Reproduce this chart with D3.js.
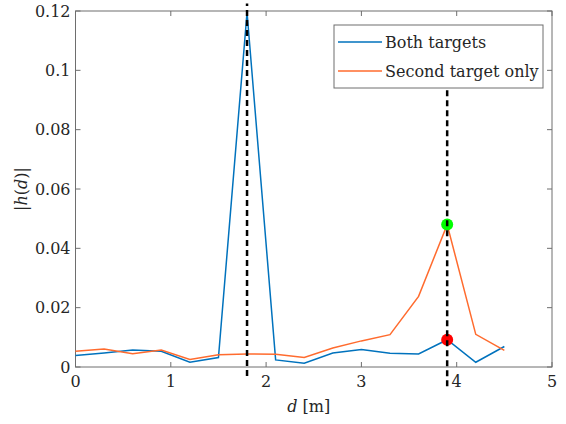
<!DOCTYPE html>
<meta charset="utf-8">
<script src="https://d3js.org/d3.v7.min.js"></script>
<style>
  body { margin: 0; background: #fff; }
</style>
<div id="chart"></div>
<script>
// distance samples and the two |h(d)| curves
var dist = [0, 0.3, 0.6, 0.9, 1.2, 1.5, 1.8, 2.1, 2.4, 2.7, 3.0, 3.3, 3.6, 3.9, 4.2, 4.5];
var bothTargets = [0.0039, 0.0047, 0.0057, 0.0053, 0.0016, 0.0032, 0.1195, 0.0024,
                   0.0013, 0.0047, 0.0059, 0.0046, 0.0044, 0.0092, 0.0016, 0.0069];
var secondOnly = [0.0053, 0.0061, 0.0045, 0.0057, 0.0025, 0.0041, 0.0044, 0.0043,
                  0.0032, 0.0064, 0.0088, 0.0109, 0.0238, 0.0480, 0.0110, 0.0056];
var seriesNames = ["Both targets", "Second target only"];
var targetPos = [1.8, 3.9];
var targetTop = [0.1225, 0.0935];
var targetBottom = [-0.003, -0.0065];
var xTicks = [0, 1, 2, 3, 4, 5];
var yTicks = [0, 0.02, 0.04, 0.06, 0.08, 0.1, 0.12];
var yTickLabels = ["0", "0.02", "0.04", "0.06", "0.08", "0.1", "0.12"];

var W = 566, H = 424;
var margin = {top: 11, right: 14, bottom: 57, left: 75.5};
var width = W - margin.left - margin.right,
    height = H - margin.top - margin.bottom;
var font = "'DejaVu Serif', 'Liberation Serif', serif";

var svg = d3.select("#chart").append("svg")
    .attr("width", W).attr("height", H)
    .attr("font-family", font);
var g = svg.append("g")
    .attr("transform", "translate(" + margin.left + "," + margin.top + ")");

var x = d3.scaleLinear().domain([0, 5]).range([0, width]);
var y = d3.scaleLinear().domain([0, 0.12]).range([height, 0]);

var axisColor = "#6e6e6e";
var textColor = "#262626";

// box
g.append("rect").attr("width", width).attr("height", height)
  .attr("fill", "none").attr("stroke", axisColor).attr("stroke-width", 1);

// ticks inside on all four sides
var tickLen = 5;
xTicks.forEach(function(t) {
  g.append("line").attr("x1", x(t)).attr("x2", x(t)).attr("y1", height).attr("y2", height - tickLen)
    .attr("stroke", axisColor);
  g.append("line").attr("x1", x(t)).attr("x2", x(t)).attr("y1", 0).attr("y2", tickLen)
    .attr("stroke", axisColor);
  g.append("text").attr("x", x(t)).attr("y", height + 20).attr("fill", textColor)
    .attr("text-anchor", "middle").attr("font-size", 16).text(t);
});
yTicks.forEach(function(t, i) {
  g.append("line").attr("x1", 0).attr("x2", tickLen).attr("y1", y(t)).attr("y2", y(t))
    .attr("stroke", axisColor);
  g.append("line").attr("x1", width).attr("x2", width - tickLen).attr("y1", y(t)).attr("y2", y(t))
    .attr("stroke", axisColor);
  g.append("text").attr("x", -5).attr("y", y(t)).attr("dy", "0.35em").attr("fill", textColor)
    .attr("text-anchor", "end").attr("font-size", 16).text(yTickLabels[i]);
});

// axis labels
var xl = g.append("text").attr("x", x(2.5) - 5).attr("y", height + 45).attr("fill", textColor)
  .attr("text-anchor", "middle").attr("font-size", 16);
xl.append("tspan").attr("font-style", "italic").text("d");
xl.append("tspan").text(" [m]");

var yl = svg.append("text").attr("transform", "translate(27," + (margin.top + height / 2) + ") rotate(-90)")
  .attr("text-anchor", "middle").attr("font-size", 16).attr("fill", textColor);
yl.append("tspan").text("|");
yl.append("tspan").attr("font-style", "italic").text("h");
yl.append("tspan").text("(");
yl.append("tspan").attr("font-style", "italic").text("d");
yl.append("tspan").text(")|");

// curves
var colors = ["#0072BD", "#FF6B2E"];
var line = d3.line().x(function(d) { return x(d[0]); }).y(function(d) { return y(d[1]); });
[bothTargets, secondOnly].forEach(function(vals, i) {
  g.append("path")
    .datum(dist.map(function(d, j) { return [d, vals[j]]; }))
    .attr("fill", "none").attr("stroke", colors[i]).attr("stroke-width", 1.5)
    .attr("d", line);
});

// markers at the second target
var idx = dist.indexOf(3.9);
g.append("circle").attr("cx", x(3.9)).attr("cy", y(secondOnly[idx])).attr("r", 6).attr("fill", "#00FF00");
g.append("circle").attr("cx", x(3.9)).attr("cy", y(bothTargets[idx])).attr("r", 6).attr("fill", "#FF0000");

// dashed target positions
targetPos.forEach(function(p, i) {
  g.append("line").attr("x1", x(p)).attr("x2", x(p))
    .attr("y1", y(targetBottom[i])).attr("y2", y(targetTop[i]))
    .attr("stroke", "#000").attr("stroke-width", 2.5).attr("stroke-dasharray", "6,4");
});

// legend
var lg = svg.append("g").attr("transform", "translate(334,25)");
lg.append("rect").attr("width", 209).attr("height", 63)
  .attr("fill", "#fff").attr("stroke", axisColor);
seriesNames.forEach(function(name, i) {
  var yy = 17 + i * 29;
  lg.append("line").attr("x1", 4).attr("x2", 48).attr("y1", yy).attr("y2", yy)
    .attr("stroke", colors[i]).attr("stroke-width", 1.5);
  lg.append("text").attr("x", 51).attr("y", yy).attr("dy", "0.35em").attr("fill", textColor)
    .attr("font-size", 16).text(name);
});
</script>
